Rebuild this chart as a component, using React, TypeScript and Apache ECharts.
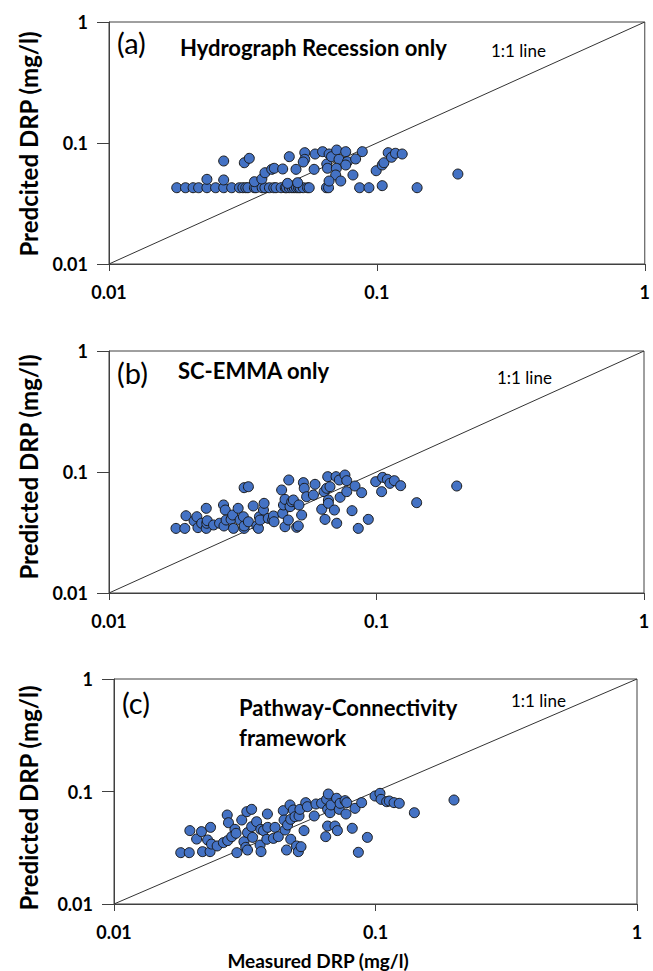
import React, { useEffect, useRef } from "react";
import * as echarts from "echarts";

const tickLabels = ["0.01", "0.1", "1"];
const panelTitles = ["Hydrograph Recession only", "SC-EMMA only", "Pathway-Connectivity\nframework"];
const panelTags = ["(a)", "(b)", "(c)"];
const yTitles = ["Predcited DRP (mg/l)", "Predicted DRP (mg/l)", "Predicted DRP (mg/l)"];
const xTitle = "Measured DRP (mg/l)";
const oneToOne: [number, number][] = [[0.01, 0.01], [1, 1]];

// Panel (a): [measured, predicted]
const panelA: [number, number][] = [
  [0.0179, 0.0427], [0.0193, 0.0427], [0.0206, 0.0427], [0.0216, 0.0427], [0.0232, 0.0427],
  [0.025, 0.0427], [0.0268, 0.0427], [0.0287, 0.0427], [0.0307, 0.0427], [0.0316, 0.0427],
  [0.0324, 0.0427], [0.033, 0.0427], [0.0349, 0.0427], [0.0354, 0.0427], [0.0373, 0.0427],
  [0.0382, 0.0427], [0.0397, 0.0427], [0.0412, 0.0427], [0.042, 0.0427], [0.0439, 0.0427],
  [0.0455, 0.0427], [0.046, 0.0427], [0.0471, 0.0427], [0.0482, 0.0427], [0.0491, 0.0427],
  [0.0501, 0.0427], [0.051, 0.0427], [0.0517, 0.0427], [0.0531, 0.0427], [0.0551, 0.0427],
  [0.0559, 0.0427], [0.0648, 0.0427], [0.066, 0.0427], [0.0862, 0.0427], [0.0934, 0.0427],
  [0.1413, 0.0427], [0.1047, 0.0444],
  [0.0232, 0.0501], [0.0268, 0.0495], [0.0268, 0.071], [0.032, 0.0687], [0.0334, 0.0747],
  [0.0349, 0.0479], [0.0372, 0.0504], [0.0382, 0.0568], [0.0405, 0.0606], [0.0414, 0.0618],
  [0.0445, 0.061], [0.0471, 0.0771], [0.0499, 0.0606], [0.0464, 0.0464], [0.0506, 0.047],
  [0.0538, 0.0832], [0.0538, 0.0733], [0.0531, 0.0697], [0.0583, 0.0606], [0.0588, 0.0811],
  [0.0627, 0.0848], [0.0663, 0.0811], [0.065, 0.067], [0.0677, 0.0771], [0.0654, 0.0618],
  [0.0708, 0.0875], [0.0722, 0.0733], [0.0765, 0.0848], [0.0776, 0.0701], [0.0765, 0.0658],
  [0.0706, 0.0618], [0.0702, 0.0544], [0.0733, 0.0485], [0.0663, 0.0485], [0.0833, 0.0738],
  [0.0882, 0.0848], [0.0814, 0.0544], [0.0994, 0.059], [0.1047, 0.0658], [0.1062, 0.0687],
  [0.1102, 0.0832], [0.1134, 0.0762], [0.1173, 0.0822], [0.1243, 0.0811], [0.2006, 0.0554],
];

// Panel (b)
const panelB: [number, number][] = [
  [0.0178, 0.0342], [0.0192, 0.0342], [0.0194, 0.0435], [0.0208, 0.0394], [0.0213, 0.0427],
  [0.0215, 0.0347], [0.0222, 0.0377], [0.0231, 0.0342], [0.0232, 0.0377], [0.0233, 0.0396],
  [0.0231, 0.0501], [0.0246, 0.0365], [0.0259, 0.0377], [0.0268, 0.0534], [0.0269, 0.0358],
  [0.0272, 0.0485], [0.0274, 0.0401], [0.0286, 0.0406], [0.029, 0.0441], [0.0292, 0.0342],
  [0.0304, 0.0501], [0.0309, 0.0401], [0.0318, 0.0427], [0.032, 0.0342], [0.032, 0.0358],
  [0.032, 0.0742], [0.0332, 0.0756], [0.0332, 0.0388], [0.0346, 0.0524], [0.0357, 0.0358],
  [0.0362, 0.0342], [0.0365, 0.0427], [0.0367, 0.0401], [0.0378, 0.0485], [0.038, 0.0551],
  [0.0394, 0.0414], [0.0409, 0.0401], [0.0412, 0.0433], [0.0414, 0.0388], [0.0442, 0.071],
  [0.0446, 0.0455], [0.0449, 0.0534], [0.0455, 0.0353], [0.0455, 0.0594], [0.0468, 0.0401],
  [0.047, 0.0859], [0.0475, 0.0517], [0.0482, 0.0568], [0.0489, 0.0587], [0.0503, 0.0349],
  [0.051, 0.0358], [0.0513, 0.0534], [0.0525, 0.0441], [0.0533, 0.0817], [0.0537, 0.0733],
  [0.0548, 0.0625], [0.0581, 0.0645], [0.0589, 0.0791], [0.0624, 0.0492], [0.0637, 0.0688],
  [0.0642, 0.0406], [0.0651, 0.0733], [0.0657, 0.0915], [0.0661, 0.0587], [0.067, 0.0756],
  [0.0661, 0.0551], [0.0696, 0.0485], [0.0706, 0.0915], [0.071, 0.0377], [0.0726, 0.0859],
  [0.0731, 0.0618], [0.0762, 0.0944], [0.0774, 0.0848], [0.0774, 0.0688], [0.081, 0.0479],
  [0.0831, 0.0766], [0.0855, 0.0342], [0.088, 0.0675], [0.0932, 0.0406], [0.0993, 0.0832],
  [0.1045, 0.0688], [0.1054, 0.0903], [0.1098, 0.087], [0.1123, 0.0806], [0.1166, 0.0848],
  [0.1231, 0.0771], [0.1413, 0.0558], [0.1995, 0.0766],
];

// Panel (c)
const panelC: [number, number][] = [
  [0.018, 0.0286], [0.0194, 0.0286], [0.0195, 0.0449], [0.0207, 0.0378], [0.0216, 0.044],
  [0.0218, 0.0292], [0.0228, 0.0371], [0.0234, 0.048], [0.0233, 0.0292], [0.0236, 0.0341],
  [0.0248, 0.0328], [0.0262, 0.0351], [0.0271, 0.0618], [0.0274, 0.0528], [0.0272, 0.0366],
  [0.0282, 0.0397], [0.029, 0.0461], [0.0293, 0.0425], [0.0295, 0.0286], [0.0308, 0.0558],
  [0.0314, 0.0358], [0.0319, 0.0319], [0.0322, 0.0662], [0.0324, 0.0302], [0.0324, 0.0431],
  [0.0336, 0.0694], [0.0339, 0.0391], [0.0336, 0.0487], [0.0351, 0.0539], [0.0362, 0.0334],
  [0.0364, 0.0461], [0.0365, 0.0292], [0.0373, 0.0449], [0.0386, 0.0631], [0.0384, 0.0376],
  [0.0387, 0.048], [0.0407, 0.0383], [0.0413, 0.048], [0.0425, 0.0397], [0.0444, 0.0676],
  [0.0447, 0.0558], [0.0451, 0.0455], [0.0457, 0.0302], [0.0461, 0.0504], [0.0471, 0.0759],
  [0.0474, 0.0566], [0.0474, 0.0376], [0.0485, 0.0685], [0.0492, 0.0597], [0.0499, 0.0328],
  [0.0507, 0.0292], [0.051, 0.0606], [0.0514, 0.0694], [0.0519, 0.0323], [0.0533, 0.0449],
  [0.0541, 0.0796], [0.0549, 0.0733], [0.0583, 0.0606], [0.0592, 0.0774], [0.0622, 0.0785],
  [0.0645, 0.0397], [0.065, 0.0852], [0.0656, 0.0493], [0.0656, 0.0694], [0.066, 0.095],
  [0.067, 0.0648], [0.0676, 0.0759], [0.07, 0.0493], [0.071, 0.087], [0.0715, 0.0449],
  [0.0727, 0.0694], [0.0732, 0.0785], [0.0765, 0.0829], [0.0776, 0.0796], [0.0771, 0.0631],
  [0.0815, 0.0471], [0.0835, 0.0709], [0.086, 0.0288], [0.0885, 0.0796], [0.0931, 0.0391],
  [0.0996, 0.0912], [0.104, 0.0963], [0.105, 0.0852], [0.1103, 0.0812], [0.1129, 0.0823],
  [0.1177, 0.0796], [0.1233, 0.0785], [0.1408, 0.0648], [0.1996, 0.084],
];

const panels = [panelA, panelB, panelC];

const FONT = "Lato, 'Open Sans', sans-serif";
const grids = [
  { left: 109, top: 22, width: 538, height: 242 },
  { left: 109, top: 351, width: 535, height: 242 },
  { left: 114, top: 679, width: 523, height: 225 },
];
const yTitleCenters = [144, 467, 798];
const tagPos = [[117, 42], [117, 372], [122, 702]];
const titlePos = [[180, 47], [178, 370], [239, 722]];
const linePos = [[491, 50], [497, 377], [511, 700]];

const fmt = (v: number) =>
  tickLabels.find((t) => Math.abs(Math.log10(+t) - Math.log10(v)) < 1e-6) ?? "";

function txt(text: string, x: number, y: number, size: number, bold: boolean, align = "left", rot = 0, lh = 0) {
  return {
    type: "text",
    x,
    y,
    rotation: rot,
    z: 100,
    style: {
      text,
      fill: "#000",
      fontFamily: FONT,
      fontSize: size,
      fontWeight: bold ? "bold" : "normal",
      align,
      verticalAlign: "middle",
      textAlign: align,
      textVerticalAlign: "middle",
      lineHeight: lh || undefined,
    },
  };
}

export default function App() {
  const ref = useRef<HTMLDivElement>(null);
  useEffect(() => {
    if (!ref.current) return;
    const chart = echarts.init(ref.current, null, { renderer: "svg" });
    const axisCommon = {
      type: "log",
      logBase: 10,
      min: 0.01,
      max: 1,
      splitLine: { show: false },
      minorTick: { show: false },
      axisLine: { show: true, lineStyle: { color: "#404040", width: 1 } },
      axisLabel: {
        formatter: fmt,
        color: "#000",
        fontFamily: FONT,
        fontSize: 18,
        fontWeight: "bold",
        showMinLabel: true,
        showMaxLabel: true,
      },
    };
    const graphic: any[] = [];
    panels.forEach((_, i) => {
      graphic.push(txt(yTitles[i], 28, yTitleCenters[i], 24, true, "center", Math.PI / 2));
      graphic.push(txt(panelTags[i], tagPos[i][0], tagPos[i][1], 29, false));
      graphic.push(txt(panelTitles[i], titlePos[i][0], titlePos[i][1], 22, true, "left", 0, 30));
      graphic.push(txt("1:1 line", linePos[i][0], linePos[i][1], 17, false));
    });
    graphic.push(txt(xTitle, 318, 960, 19, true, "center"));

    chart.setOption({
      animation: false,
      backgroundColor: "#fff",
      grid: grids.map((g) => ({ ...g, show: true, borderColor: "#404040", borderWidth: 1, backgroundColor: "transparent" })),
      xAxis: grids.map((_, i) => ({
        ...axisCommon,
        gridIndex: i,
        axisTick: { show: true, inside: false, length: 7, lineStyle: { color: "#404040" } },
        axisLabel: { ...axisCommon.axisLabel, margin: 19 },
      })),
      yAxis: grids.map((_, i) => ({
        ...axisCommon,
        gridIndex: i,
        axisTick: { show: true, inside: false, length: 12, lineStyle: { color: "#404040" } },
        axisLabel: { ...axisCommon.axisLabel, margin: 21 },
      })),
      series: panels.flatMap((pts, i) => [
        {
          type: "line",
          xAxisIndex: i,
          yAxisIndex: i,
          data: oneToOne,
          showSymbol: false,
          symbol: "none",
          lineStyle: { color: "#333", width: 1 },
          z: 1,
          silent: true,
        },
        {
          type: "scatter",
          xAxisIndex: i,
          yAxisIndex: i,
          data: pts,
          symbol: "circle",
          symbolSize: 10,
          itemStyle: { color: "#4472C4", borderColor: "#1a1a1a", borderWidth: 1, opacity: 1 },
          z: 2,
        },
      ]),
      graphic,
    });
    return () => chart.dispose();
  }, []);
  return (
    <div
      ref={ref}
      style={{ position: "absolute", left: 0, top: 0, width: 653, height: 971, background: "#fff" }}
    />
  );
}
